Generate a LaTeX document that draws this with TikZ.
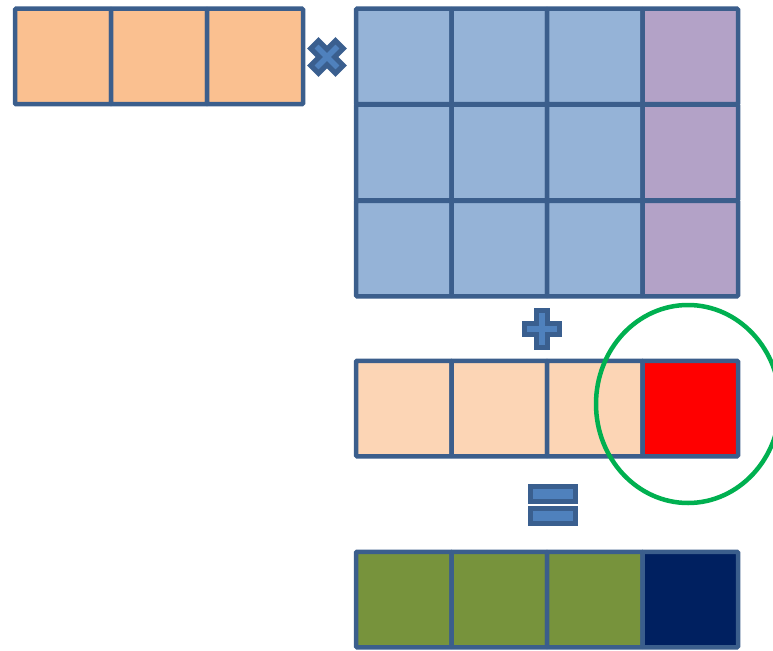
\documentclass[tikz,border=0pt]{standalone}
\usepackage{tikz}
\usetikzlibrary{positioning}

\definecolor{CellEdge}{HTML}{3B5E8C}
\definecolor{InPeach}{HTML}{FAC090}
\definecolor{WBlue}{HTML}{95B3D7}
\definecolor{WPurple}{HTML}{B3A2C7}
\definecolor{BPeach}{HTML}{FCD5B5}
\definecolor{BRed}{HTML}{FF0000}
\definecolor{OGreen}{HTML}{77933C}
\definecolor{ONavy}{HTML}{002060}
\definecolor{OpEdge}{HTML}{3A5F8F}
\definecolor{OpFill}{HTML}{4F81BD}
\definecolor{Mark}{HTML}{00B050}

\begin{document}
\begin{tikzpicture}[x=1pt,y=-1pt,
  cell/.style={draw=CellEdge,line width=4.5pt,minimum width=96pt,minimum height=95.5pt,
    inner sep=0pt,outer sep=0pt,rounded corners=1pt},
  op/.style={draw=OpEdge,fill=OpFill,line width=5pt,line join=miter}]
\useasboundingbox (0,0) rectangle (773,650);

% Input row (1 x 3).
\foreach \i in {1,2,3}{
  \node[cell,fill=InPeach] (x\i) at ({15+96*(\i-0.5)},56.5) {};
}

% Weight matrix (3 x 4), last column highlighted.
\foreach \r/\y in {1/56.5,2/152.5,3/248.5}{
  \foreach \c in {1,2,3}{
    \node[cell,fill=WBlue,minimum width=95.5pt] (w\r\c) at ({356+95.5*(\c-0.5)},\y) {};
  }
  \node[cell,fill=WPurple,minimum width=95.5pt] (w\r4) at ({356+95.5*3.5},\y) {};
}

% Bias row.
\foreach \c in {1,2,3}{
  \node[cell,fill=BPeach,minimum width=95.5pt] (b\c) at ({356+95.5*(\c-0.5)},408.5) {};
}
\node[cell,fill=BRed,minimum width=95.5pt] (b4) at ({356+95.5*3.5},408.5) {};

% Output row.
\foreach \c in {1,2,3}{
  \node[cell,fill=OGreen,minimum width=95.5pt] (y\c) at ({356+95.5*(\c-0.5)},599.5) {};
}
\node[cell,fill=ONavy,minimum width=95.5pt] (y4) at ({356+95.5*3.5},599.5) {};

% Operators.
\begin{scope}[shift={(327,57)},rotate=45]
\draw[op] (-5.5,-17.5) -- (5.5,-17.5) -- (5.5,-5.5) -- (17.5,-5.5) -- (17.5,5.5) -- (5.5,5.5)
  -- (5.5,17.5) -- (-5.5,17.5) -- (-5.5,5.5) -- (-17.5,5.5) -- (-17.5,-5.5) -- (-5.5,-5.5) -- cycle;
\end{scope}
\begin{scope}[shift={(541.5,329)}]
\draw[op] (-5.5,-18.5) -- (5.5,-18.5) -- (5.5,-5.5) -- (17.5,-5.5) -- (17.5,5.5) -- (5.5,5.5)
  -- (5.5,18.5) -- (-5.5,18.5) -- (-5.5,5.5) -- (-17.5,5.5) -- (-17.5,-5.5) -- (-5.5,-5.5) -- cycle;
\end{scope}
\draw[op] (530.5,486.5) rectangle (575.5,501.5);
\draw[op] (530.5,508.5) rectangle (575.5,523.5);

% Highlight of the biased output element.
\draw[Mark,line width=4.5pt] (688,404) ellipse [x radius=92,y radius=99];
\end{tikzpicture}
\end{document}
